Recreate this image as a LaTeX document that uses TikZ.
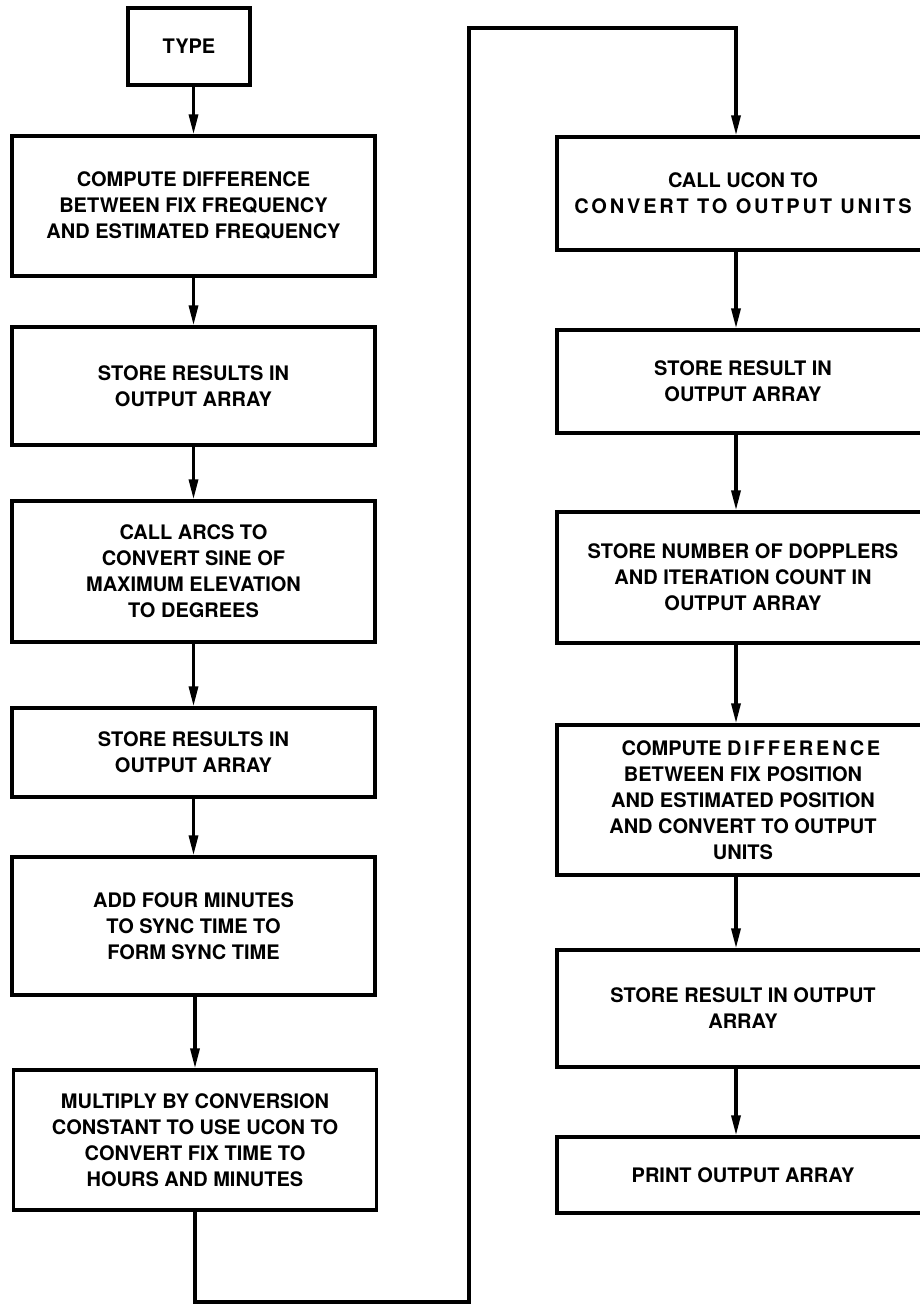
\documentclass[tikz,border=0pt]{standalone}
\usepackage{fontspec}
\setmainfont{TeX Gyre Heros}
\newfontfamily\widefont[LetterSpace=14]{TeX Gyre Heros}
\usetikzlibrary{arrows.meta}
\begin{document}
\begin{tikzpicture}[x=1pt,y=-1pt,
  box/.style={draw, line width=3.2pt, align=center, inner sep=0pt,
    font=\fontsize{20}{26}\selectfont\bfseries},
  lbox/.style={box, minimum width=363pt},
  rbox/.style={box, minimum width=372pt},
  arr/.style={line width=3.2pt, -{Triangle[width=9pt,length=20pt]}}]
\useasboundingbox (0,0) rectangle (919,1305);
% left column
\node[box, minimum width=122pt, minimum height=77pt] (type) at (189,46.5) {TYPE};
\node[lbox, minimum height=140pt] (b2) at (193.5,206) {COMPUTE DIFFERENCE\\BETWEEN FIX FREQUENCY\\AND ESTIMATED FREQUENCY};
\node[lbox, minimum height=118pt] (b3) at (193.5,386) {STORE RESULTS IN\\OUTPUT ARRAY};
\node[lbox, minimum height=141pt] (b4) at (193.5,571.5) {CALL ARCS TO\\CONVERT SINE OF\\MAXIMUM ELEVATION\\TO DEGREES};
\node[lbox, minimum height=89pt] (b5) at (193.5,752.5) {STORE RESULTS IN\\OUTPUT ARRAY};
\node[lbox, minimum height=138pt] (b6) at (193.5,926) {ADD FOUR MINUTES\\TO SYNC TIME TO\\FORM SYNC TIME};
\node[lbox, minimum height=140pt] (b7) at (195,1140) {MULTIPLY BY CONVERSION\\CONSTANT TO USE UCON TO\\CONVERT FIX TIME TO\\HOURS AND MINUTES};
% right column
\node[rbox, minimum height=113pt] (r1) at (743,193.5) {CALL UCON TO\\{\widefont\bfseries CONVERT TO OUTPUT UNITS}};
\node[rbox, minimum height=103pt] (r2) at (743,381.5) {STORE RESULT IN\\OUTPUT ARRAY};
\node[rbox, minimum height=131pt] (r3) at (743,577.5) {STORE NUMBER OF DOPPLERS\\AND ITERATION COUNT IN\\OUTPUT ARRAY};
\node[rbox, minimum height=150pt] (r4) at (743,800) {\hspace*{16pt}COMPUTE {\widefont\bfseries DIFFERENCE}\\BETWEEN FIX POSITION\\AND ESTIMATED POSITION\\AND CONVERT TO OUTPUT\\UNITS};
\node[rbox, minimum height=117pt] (r5) at (743,1008.5) {STORE RESULT IN OUTPUT\\ARRAY};
\node[rbox, minimum height=76pt] (r6) at (743,1175) {PRINT OUTPUT ARRAY};
% connectors
\coordinate (rc) at (736,0);
\draw[arr] (type.south -| b2.north) -- (b2.north);
\draw[arr] (b2) -- (b3);
\draw[arr] (b3) -- (b4);
\draw[arr] (b4) -- (b5);
\draw[arr] (b5) -- (b6);
\draw[arr] (b6.south -| b7.north) -- (b7.north);
\coordinate (c1) at (469,1302);
\coordinate (c2) at (469,28);
\draw[arr, line join=miter] (b7.south) |- (c1) -- (c2) -| (rc |- r1.north);
\draw[arr] (rc |- r1.south) -- (rc |- r2.north);
\draw[arr] (rc |- r2.south) -- (rc |- r3.north);
\draw[arr] (rc |- r3.south) -- (rc |- r4.north);
\draw[arr] (rc |- r4.south) -- (rc |- r5.north);
\draw[arr] (rc |- r5.south) -- (rc |- r6.north);
\end{tikzpicture}
\end{document}
